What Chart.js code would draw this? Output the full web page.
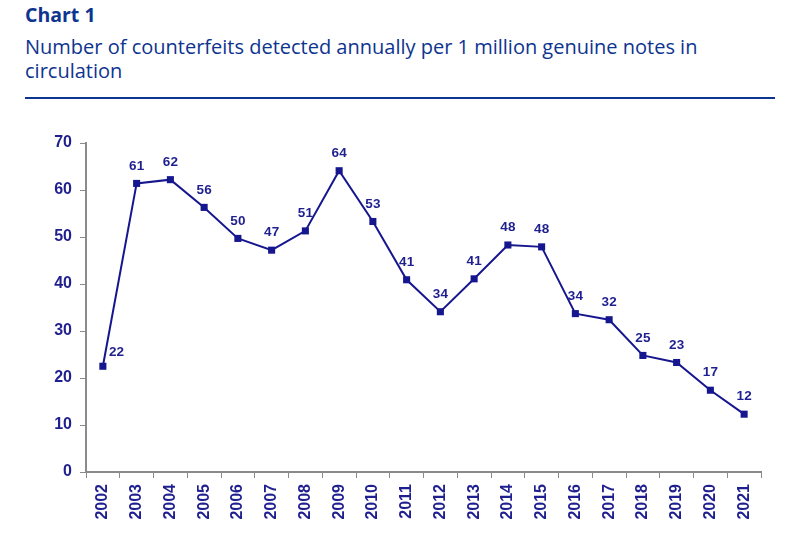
<!DOCTYPE html>
<html>
<head>
<meta charset="utf-8">
<script src="https://cdn.jsdelivr.net/npm/chart.js@4/dist/chart.umd.min.js"></script>
<style>
  html, body { margin: 0; padding: 0; background: #fff; width: 806px; height: 555px; overflow: hidden; }
  #hdr { position: absolute; left: 25px; top: 0; width: 750px; font-family: "Open Sans", sans-serif; color: #0d348f; }
  #t1 { position: absolute; top: 3px; left: 0; font-size: 19.5px; line-height: 24px; font-weight: bold; white-space: nowrap; }
  #t2 { position: absolute; top: 34.5px; left: 0; width: 740px; font-size: 20px; line-height: 24.4px; }
  #rule { position: absolute; left: 25px; top: 97px; width: 750px; height: 2px; background: #0d348f; }
  #wrap { position: absolute; left: 0; top: 100px; width: 806px; height: 455px; }
</style>
</head>
<body>
<div id="hdr">
  <div id="t1">Chart 1</div>
  <div id="t2">Number of counterfeits detected annually per 1 million genuine notes in circulation</div>
</div>
<div id="rule"></div>
<div id="wrap"><canvas id="c" width="806" height="455"></canvas></div>
<script>
const years = ["2002","2003","2004","2005","2006","2007","2008","2009","2010","2011","2012","2013","2014","2015","2016","2017","2018","2019","2020","2021"];
const counterfeits = [22.5, 61.4, 62.2, 56.3, 49.7, 47.2, 51.3, 64.1, 53.3, 40.9, 34.1, 41.1, 48.3, 47.9, 33.7, 32.4, 24.8, 23.3, 17.4, 12.3];
const valueLabels = ["22","61","62","56","50","47","51","64","53","41","34","41","48","48","34","32","25","23","17","12"];
const yTicks = [0, 10, 20, 30, 40, 50, 60, 70];

const navy = '#16168f';
const textCol = '#1f1f90';
const axisCol = '#8a8a8a';

const labelPlugin = {
  id: 'valueLabels',
  afterDatasetsDraw(chart) {
    const ctx = chart.ctx;
    const meta = chart.getDatasetMeta(0);
    ctx.save();
    ctx.font = 'bold 13.5px "Liberation Sans", Arial, sans-serif';
    ctx.fillStyle = textCol;
    ctx.textBaseline = 'middle';
    meta.data.forEach((pt, i) => {
      if (i === 0) {
        ctx.textAlign = 'left';
        ctx.fillText(valueLabels[i], pt.x + 6, pt.y - 14);
      } else {
        ctx.textAlign = 'center';
        ctx.fillText(valueLabels[i], pt.x, pt.y - 17.5);
      }
    });
    ctx.restore();
  }
};

new Chart(document.getElementById('c'), {
  type: 'line',
  data: {
    labels: years,
    datasets: [{
      data: counterfeits,
      borderColor: navy,
      backgroundColor: navy,
      borderWidth: 2,
      pointStyle: 'rect',
      pointRadius: 5,
      pointHoverRadius: 5,
      pointBorderWidth: 0,
      tension: 0,
      fill: false
    }]
  },
  options: {
    responsive: false,
    animation: false,
    events: [],
    layout: { padding: { top: 43, right: 45, bottom: 0, left: 0 } },
    plugins: { legend: { display: false }, tooltip: { enabled: false }, title: { display: false } },
    scales: {
      x: {
        type: 'category',
        offset: true,
        grid: { display: true, drawOnChartArea: false, drawTicks: true, tickLength: 6, tickColor: axisCol, offset: true },
        border: { display: true, color: axisCol, width: 2 },
        ticks: {
          color: textCol,
          font: { family: '"Liberation Sans", Arial, sans-serif', size: 16, weight: 'bold' },
          maxRotation: 90, minRotation: 90, padding: 6, autoSkip: false
        },
        afterFit(s) { s.height = 83; }
      },
      y: {
        min: 0, max: 70,
        afterBuildTicks(s) { s.ticks = yTicks.map(v => ({ value: v })); },
        grid: { display: true, drawOnChartArea: false, drawTicks: true, tickLength: 6, tickColor: axisCol },
        border: { display: true, color: axisCol, width: 2 },
        ticks: {
          color: textCol,
          font: { family: '"Liberation Sans", Arial, sans-serif', size: 16, weight: 'bold' },
          padding: 8
        },
        afterFit(s) { s.width = 86; }
      }
    }
  },
  plugins: [labelPlugin]
});
</script>
</body>
</html>
